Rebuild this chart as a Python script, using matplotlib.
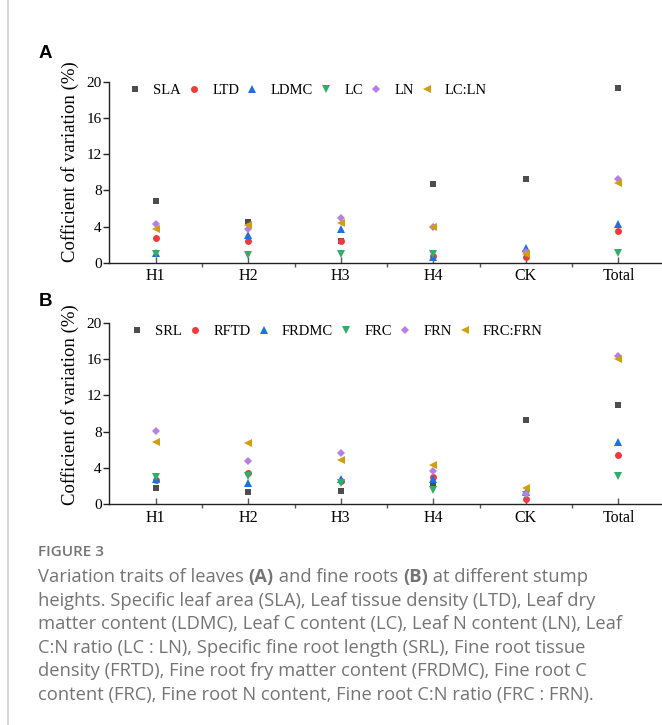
import matplotlib
matplotlib.use("Agg")
import matplotlib.pyplot as plt
from matplotlib.lines import Line2D
from matplotlib.text import Annotation

plt.rcParams['font.family'] = ['Liberation Serif', 'DejaVu Serif']

categories = ["H1", "H2", "H3", "H4", "CK", "Total"]

# Panel A (leaves)
leaf_names = ["SLA", "LTD", "LDMC", "LC", "LN", "LC:LN"]
SLA = [6.8, 4.5, 2.4, 8.66, 9.28, 19.3]
LTD = [2.75, 2.45, 2.35, 0.7, 0.6, 3.5]
LDMC = [1.1, 3.1, 3.7, 0.66, 1.58, 4.33]
LC = [1.0, 0.9, 1.0, 1.0, 1.0, 1.03]
LN = [4.3, 3.7, 4.9, 3.96, 1.2, 9.2]
LC_LN = [3.75, 4.2, 4.4, 3.93, 1.0, 8.85]

# Panel B (fine roots)
root_names = ["SRL", "RFTD", "FRDMC", "FRC", "FRN", "FRC:FRN"]
SRL = [1.76, 1.3, 1.45, 2.28, 9.28, 10.9]
RFTD = [2.65, 3.41, 2.6, 2.97, 0.59, 5.4]
FRDMC = [2.75, 2.3, 2.8, 2.8, 1.36, 6.9]
FRC = [2.97, 3.16, 2.3, 1.54, 1.0, 3.1]
FRN = [8.07, 4.77, 5.65, 3.63, 1.14, 16.3]
FRC_FRN = [6.86, 6.7, 4.92, 4.37, 1.83, 15.97]

colors = ["#4d4d4d", "#ef3a3a", "#1f6fe0", "#2fae6a", "#b57fe4", "#d19f0c"]
markers = ["s", "o", "^", "v", "D", "<"]
msizes = [4.3, 5.0, 5.2, 5.2, 4.3, 5.2]

W, H = 662, 725
fig = plt.figure(figsize=(W / 100, H / 100), dpi=100)

def fx(px):
    return px / W

def fy(py):
    return 1 - py / H

ax_left = 109.4
ax_right = 662
axA = fig.add_axes([fx(ax_left), fy(262.7), fx(ax_right - ax_left), (262.7 - 81.7) / H])
axB = fig.add_axes([fx(ax_left), fy(504.3), fx(ax_right - ax_left), (504.3 - 322.7) / H])

x = list(range(len(categories)))

def draw(ax, names, series, legend_anchor, label_y):
    for name, vals, c, m, ms in zip(names, series, colors, markers, msizes):
        ax.plot(x, vals, linestyle="none", marker=m, color=c, markersize=ms,
                markeredgewidth=0, label=name, clip_on=False)
    ax.set_xlim(-0.5, 5.47)
    ax.set_ylim(0, 20)
    ax.set_yticks([0, 4, 8, 12, 16, 20])
    ax.set_xticks(x)
    ax.set_xticks([i + 0.5 for i in range(5)], minor=True)
    ax.set_xticklabels(categories)
    for s in ["top", "right"]:
        ax.spines[s].set_visible(False)
    for s in ["left", "bottom"]:
        ax.spines[s].set_linewidth(1.0)
        ax.spines[s].set_color("#222222")
    ax.tick_params(axis="y", direction="out", length=4, width=1, pad=1.5,
                   labelsize=11, color="#222222")
    ax.tick_params(axis="x", which="major", direction="in", length=4, width=1,
                   pad=4, labelsize=11.5, color="#555555")
    ax.tick_params(axis="x", which="minor", direction="out", length=3, width=1,
                   color="#555555")
    ax.set_ylabel("Cofficient of variation (%)", fontsize=13.5)
    ax.yaxis.set_label_coords(-0.055, label_y)
    ax.legend(loc="center left", bbox_to_anchor=legend_anchor, ncol=6,
              frameon=False, fontsize=10.5, handlelength=1.0,
              handletextpad=0.75, columnspacing=0.4, borderpad=0,
              borderaxespad=0, markerscale=1.0)

draw(axA, leaf_names, [SLA, LTD, LDMC, LC, LN, LC_LN], (0.033, 0.950), 0.559)
draw(axB, root_names, [SRL, RFTD, FRDMC, FRC, FRN, FRC_FRN], (0.0367, 0.954), 0.55)

# Panel letters
fig.text(fx(45), fy(53), "A", fontsize=13.5, fontweight="bold",
         family=["Liberation Sans", "DejaVu Sans"], ha="center", va="center")
fig.text(fx(45), fy(302), "B", fontsize=13.5, fontweight="bold",
         family=["Liberation Sans", "DejaVu Sans"], ha="center", va="center")

# Left gray rule
fig.add_artist(Line2D([fx(8), fx(8)], [0, 1], color="#d0d0d0", linewidth=1.2))

# Caption
cap_color = "#747474"
cap_font = ["Open Sans", "DejaVu Sans"]
fig.text(fx(38), fy(552), "FIGURE 3", fontsize=11, fontweight="semibold",
         color=cap_color, family=cap_font, va="center", ha="left")

cap_size = 13.2
line_gap = 23.6
y0 = 582

pieces = [("Variation traits of leaves ", "normal"), ("(A)", "bold"),
          (" and fine roots ", "normal"), ("(B)", "bold"),
          (" at different stump", "normal")]
prev = fig.text(fx(38), fy(y0), pieces[0][0], fontsize=cap_size, color=cap_color,
                family=cap_font, va="baseline", ha="left")
for txt, wt in pieces[1:]:
    prev = fig.add_artist(Annotation(
        txt, xy=(1, 0), xycoords=prev, xytext=(0, 0), textcoords="offset points",
        fontsize=cap_size, color=cap_color, family=cap_font, fontweight=wt,
        va="bottom", ha="left"))

other_lines = [
    "heights. Specific leaf area (SLA), Leaf tissue density (LTD), Leaf dry",
    "matter content (LDMC), Leaf C content (LC), Leaf N content (LN), Leaf",
    "C:N ratio (LC : LN), Specific fine root length (SRL), Fine root tissue",
    "density (FRTD), Fine root fry matter content (FRDMC), Fine root C",
    "content (FRC), Fine root N content, Fine root C:N ratio (FRC : FRN).",
]
for i, ln in enumerate(other_lines, start=1):
    fig.text(fx(38), fy(y0 + i * line_gap), ln, fontsize=cap_size, color=cap_color,
             family=cap_font, va="baseline", ha="left")

fig.savefig("out.png", dpi=100)
